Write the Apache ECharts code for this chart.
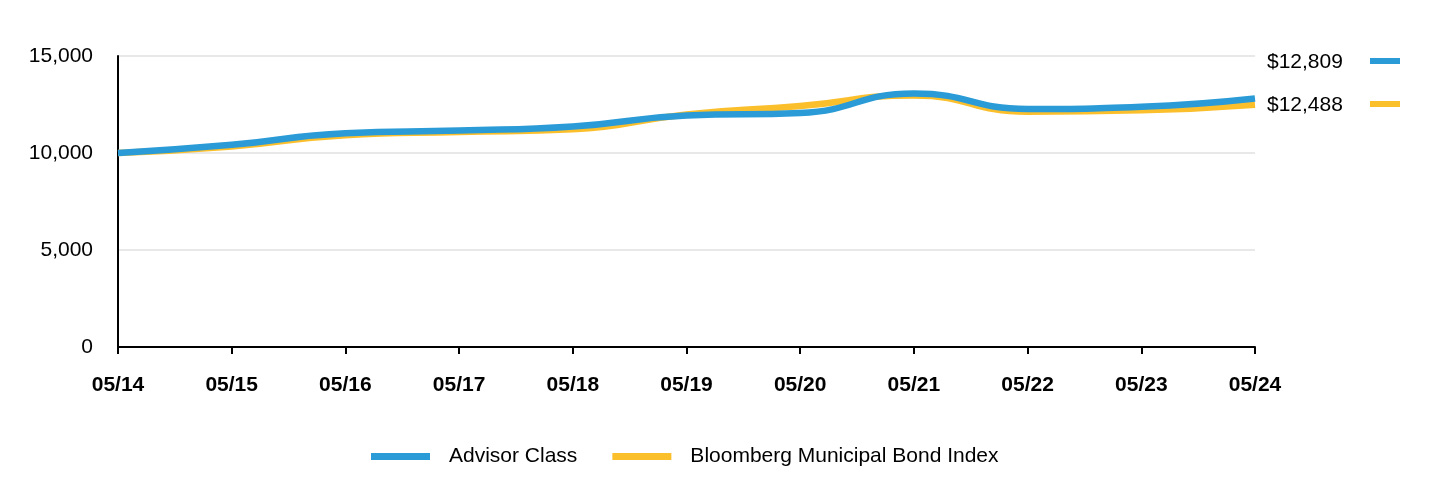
<!DOCTYPE html>
<html>
<head>
<meta charset="utf-8">
<script src="https://cdn.jsdelivr.net/npm/echarts@6/dist/echarts.min.js"></script>
<style>html,body{margin:0;padding:0;background:#fff}#c{width:1440px;height:492px}</style>
</head>
<body>
<div id="c"></div>
<script>
var categories = ['05/14','05/15','05/16','05/17','05/18','05/19','05/20','05/21','05/22','05/23','05/24'];
var advisorClass = [10000, 10420, 11020, 11160, 11370, 11930, 12060, 13070, 12270, 12380, 12809];
var bloombergIndex = [10000, 10340, 10920, 11080, 11220, 11990, 12420, 12970, 12130, 12200, 12488];
var seriesNames = ['Advisor Class', 'Bloomberg Municipal Bond Index'];
var seriesColors = ['#2a9bd6', '#fcbf2c'];

var FONT = '"Liberation Sans", Arial, Helvetica, sans-serif';
function money(v){ return '$' + v.toLocaleString('en-US'); }

var chart = echarts.init(document.getElementById('c'), null, {renderer:'canvas'});
chart.setOption({
  animation: false,
  backgroundColor: '#fff',
  grid: {left: 118, right: 185, top: 56, bottom: 145, containLabel: false},
  xAxis: {
    type: 'category',
    data: categories,
    boundaryGap: false,
    axisLine: {lineStyle: {color: '#000', width: 2}},
    axisTick: {show: true, length: 7, lineStyle: {color: '#000', width: 2}},
    axisLabel: {color: '#000', fontSize: 21, fontWeight: 'bold', fontFamily: FONT, margin: 28},
    splitLine: {show: false}
  },
  yAxis: {
    type: 'value',
    min: 0, max: 15000, interval: 5000,
    axisLine: {show: true, lineStyle: {color: '#000', width: 2}},
    axisTick: {show: false},
    axisLabel: {color: '#000', fontSize: 21, fontFamily: FONT, margin: 25,
      formatter: function(v){ return v.toLocaleString('en-US'); }},
    splitLine: {show: true, lineStyle: {color: '#e1e1e1', width: 1.5}}
  },
  legend: {
    left: 366, top: 441,
    itemWidth: 59, itemHeight: 7, itemGap: 35,
    icon: 'rect',
    textStyle: {color: '#000', fontSize: 21, fontFamily: FONT, padding: [0,0,0,14]},
    data: seriesNames.slice()
  },
  series: [
    {name: seriesNames[1], type: 'line', data: bloombergIndex, smooth: 0.5, symbol: 'none',
     lineStyle: {color: seriesColors[1], width: 6.5}, itemStyle: {color: seriesColors[1]}, z: 2},
    {name: seriesNames[0], type: 'line', data: advisorClass, smooth: 0.5, symbol: 'none',
     lineStyle: {color: seriesColors[0], width: 6.5}, itemStyle: {color: seriesColors[0]}, z: 3}
  ],
  graphic: [
    {type: 'text', left: 1267, top: 52, style: {text: money(advisorClass[advisorClass.length-1]), fill: '#000', font: '21px ' + FONT}},
    {type: 'text', left: 1267, top: 95, style: {text: money(bloombergIndex[bloombergIndex.length-1]), fill: '#000', font: '21px ' + FONT}},
    {type: 'rect', shape: {x: 1370, y: 58, width: 30, height: 6}, style: {fill: seriesColors[0]}},
    {type: 'rect', shape: {x: 1370, y: 101, width: 30, height: 6}, style: {fill: seriesColors[1]}}
  ]
});
</script>
</body>
</html>
